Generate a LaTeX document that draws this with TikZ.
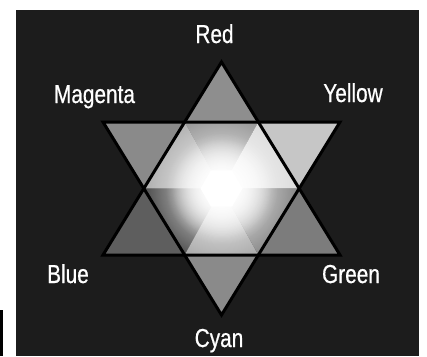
\documentclass[tikz,border=0pt]{standalone}
\usepackage{fontspec}
\newfontfamily\lblfont[FakeStretch=0.8,FakeBold=0.6]{Liberation Sans}
\usetikzlibrary{fadings}

\definecolor{bgdark}{HTML}{1C1C1C}
\definecolor{tipred}{HTML}{8E8E8E}
\definecolor{tipmag}{HTML}{8A8A8A}
\definecolor{tipyel}{HTML}{C6C6C6}
\definecolor{tipblu}{HTML}{5E5E5E}
\definecolor{tipgrn}{HTML}{7C7C7C}
\definecolor{tipcya}{HTML}{8A8A8A}
\definecolor{secT}{HTML}{959595}
\definecolor{secUL}{HTML}{B0B0B0}
\definecolor{secUR}{HTML}{DCDCDC}
\definecolor{secLL}{HTML}{505050}
\definecolor{secB}{HTML}{A8A8A8}
\definecolor{secLR}{HTML}{888888}

\tikzfading[name=glowfade, inner color=transparent!0, outer color=transparent!100]

\begin{document}
\begin{tikzpicture}[
    x=1pt, y=-1pt,
    lbl/.style   = {text=white, anchor=base, inner sep=0pt,
                    font=\lblfont\fontsize{26}{28}\selectfont},
    edge/.style  = {draw=black, line width=3pt},
    glow/.style  = {fill=white, path fading=glowfade}
]
\useasboundingbox (0,0) rectangle (427,356);

% background
\fill[bgdark] (16,10) rectangle (419,356);
\fill[black] (0,310) rectangle (3,356);

% star corners
\coordinate (C)  at (221.5,188.5);
\coordinate (T)  at (221.5,62);
\coordinate (B)  at (221.5,315);
\coordinate (TL) at (103,122);
\coordinate (TR) at (340,122);
\coordinate (BL) at (103,255);
\coordinate (BR) at (340,255);

% hexagon corners
\coordinate (hTL) at (intersection of T--BL and TL--TR);
\coordinate (hTR) at (intersection of T--BR and TL--TR);
\coordinate (hL)  at (intersection of T--BL and TL--B);
\coordinate (hR)  at (intersection of T--BR and TR--B);
\coordinate (hBL) at (intersection of BL--BR and TL--B);
\coordinate (hBR) at (intersection of BL--BR and TR--B);

% tips
\fill[tipred] (T)  -- (hTL) -- (hTR) -- cycle;
\fill[tipmag] (TL) -- (hTL) -- (hL)  -- cycle;
\fill[tipyel] (TR) -- (hTR) -- (hR)  -- cycle;
\fill[tipblu] (BL) -- (hL)  -- (hBL) -- cycle;
\fill[tipgrn] (BR) -- (hR)  -- (hBR) -- cycle;
\fill[tipcya] (B)  -- (hBL) -- (hBR) -- cycle;

% inner sectors
\fill[secT]  (C) -- (hTL) -- (hTR) -- cycle;
\fill[secUL] (C) -- (hTL) -- (hL)  -- cycle;
\fill[secUR] (C) -- (hTR) -- (hR)  -- cycle;
\fill[secLL] (C) -- (hL)  -- (hBL) -- cycle;
\fill[secB]  (C) -- (hBL) -- (hBR) -- cycle;
\fill[secLR] (C) -- (hBR) -- (hR)  -- cycle;

% white glow
\begin{scope}
  \clip (hTL) -- (hTR) -- (hR) -- (hBR) -- (hBL) -- (hL) -- cycle;
  \fill[glow] (C) circle (76);
  \fill[glow] (C) circle (56);
  \fill[glow] (C) circle (50);
  \fill[white] (C) ++(0:21) -- ++(120:21) -- ++(180:21) -- ++(240:21)
               -- ++(300:21) -- ++(0:21) -- cycle;
\end{scope}

% outlines
\draw[edge] (T)  -- (BL) -- (BR) -- cycle;
\draw[edge] (TL) -- (TR) -- (B)  -- cycle;

% labels
\node[lbl] (red)     at (214.5,43)  {Red};
\node[lbl] (magenta) at (94.5,103)  {Magenta};
\node[lbl] (yellow)  at (353,102)   {Yellow};
\node[lbl] (blue)    at (68,283)    {Blue};
\node[lbl] (green)   at (351,283)   {Green};
\node[lbl] (cyan)    at (219,347)   {Cyan};
\end{tikzpicture}
\end{document}
